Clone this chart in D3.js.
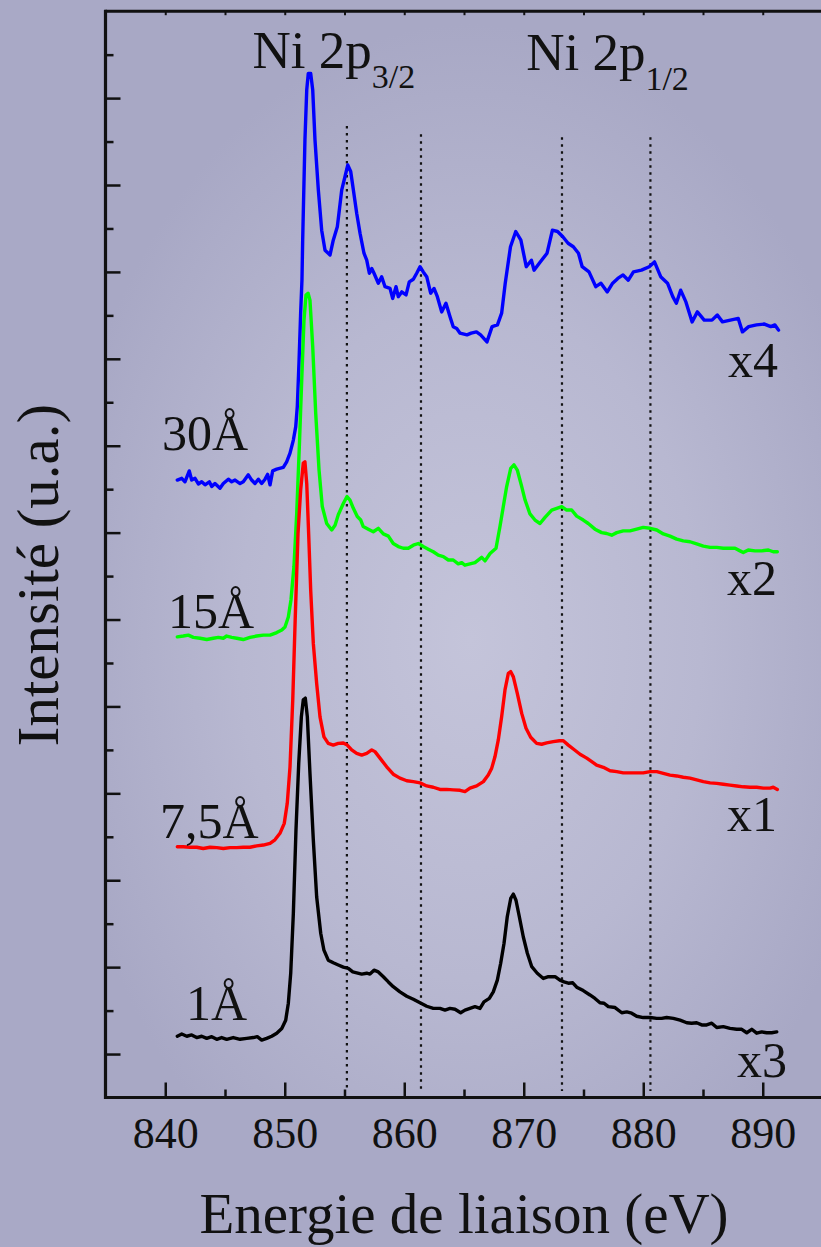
<!DOCTYPE html>
<html><head><meta charset="utf-8">
<script src="https://cdn.jsdelivr.net/npm/d3@7/dist/d3.min.js"></script>
<style>html,body{margin:0;padding:0;background:#aaaac6;}svg{display:block;}</style>
</head><body>
<script>
// ---- Data (binding energy eV, intensity a.u., offset stacked) ----
const spec30 = [[841.01,13.21],[841.38,13.25],[841.65,13.17],[842.01,13.42],[842.21,13.21],[842.49,13.25],[842.77,13.12],[843.05,13.17],[843.33,13.10],[843.69,13.17],[843.89,13.06],[844.16,13.13],[844.58,13.02],[844.86,13.13],[845.28,13.23],[845.56,13.17],[845.84,13.21],[846.26,13.13],[846.53,13.17],[846.95,13.33],[847.23,13.21],[847.51,13.13],[847.79,13.23],[848.07,13.13],[848.35,13.23],[848.57,13.34],[848.77,13.10],[848.99,13.42],[849.33,13.46],[849.88,13.50],[850.16,13.63],[850.44,13.83],[850.72,14.13],[850.92,14.44],[851.05,14.90],[851.19,15.90],[851.33,17.05],[851.44,17.81],[851.50,18.73],[851.69,21.04],[851.84,22.19],[851.97,22.57],[852.17,22.57],[852.34,22.19],[852.53,21.04],[852.81,19.89],[853.09,18.96],[853.37,18.50],[853.79,18.39],[854.06,18.73],[854.40,19.04],[854.77,19.89],[855.04,20.19],[855.27,20.46],[855.52,20.31],[855.74,19.89],[856.02,19.35],[856.30,18.89],[856.63,18.43],[856.86,18.27],[857.08,17.97],[857.28,18.08],[857.47,17.97],[857.83,17.74],[858.11,17.89],[858.39,17.66],[858.81,17.62],[859.03,17.39],[859.31,17.66],[859.50,17.43],[859.79,17.54],[860.15,17.47],[860.42,17.77],[860.76,17.83],[861.04,17.97],[861.32,18.12],[861.59,18.00],[861.88,17.89],[862.21,17.51],[862.49,17.62],[862.77,17.43],[863.13,17.08],[863.49,17.28],[863.83,16.97],[864.10,16.74],[864.39,16.70],[864.67,16.59],[865.25,16.55],[865.60,16.59],[866.04,16.62],[866.39,16.55],[866.92,16.39],[867.35,16.74],[867.80,16.78],[868.15,17.05],[868.45,17.74],[868.89,18.58],[869.33,18.93],[869.76,18.73],[870.21,18.12],[870.64,18.27],[870.86,18.04],[871.30,18.20],[871.95,18.43],[872.40,18.96],[872.83,18.93],[873.27,18.81],[873.71,18.66],[874.15,18.58],[874.58,18.43],[874.89,18.12],[875.46,18.00],[876.03,17.66],[876.46,17.74],[876.99,17.54],[877.44,17.74],[877.87,17.85],[878.31,17.93],[878.75,17.81],[879.18,18.00],[879.85,18.04],[880.50,18.12],[880.94,18.23],[881.46,17.89],[882.03,17.74],[882.47,17.43],[882.77,17.28],[883.13,17.58],[883.57,17.31],[884.09,16.85],[884.53,17.08],[885.10,16.89],[885.75,16.89],[886.20,17.01],[886.63,16.85],[887.29,16.89],[887.95,16.93],[888.30,16.62],[888.82,16.74],[889.48,16.78],[890.14,16.80],[890.67,16.74],[891.02,16.78],[891.32,16.66]];

const spec15 = [[841.01,9.60],[841.51,9.62],[841.93,9.64],[842.35,9.59],[842.91,9.57],[843.47,9.54],[844.02,9.57],[844.44,9.59],[844.86,9.57],[845.14,9.62],[845.56,9.59],[845.98,9.57],[846.53,9.54],[847.09,9.59],[847.65,9.62],[848.21,9.64],[848.77,9.64],[849.33,9.70],[849.75,9.76],[850.02,9.83],[850.30,10.06],[850.52,10.45],[850.77,11.22],[851.00,12.44],[851.22,13.98],[851.42,15.51],[851.61,16.89],[851.78,17.47],[851.95,17.51],[852.11,17.35],[852.34,16.28],[852.59,14.75],[852.87,13.44],[853.14,12.60],[853.51,12.21],[853.93,12.06],[854.21,12.17],[854.48,12.41],[854.90,12.67],[855.21,12.83],[855.46,12.75],[855.74,12.56],[856.07,12.37],[856.36,12.29],[856.57,12.14],[856.99,12.08],[857.41,12.02],[857.83,12.10],[858.25,11.97],[858.67,11.92],[859.08,11.75],[859.50,11.68],[859.92,11.64],[860.34,11.64],[860.76,11.71],[861.18,11.75],[861.59,11.68],[862.01,11.62],[862.43,11.56],[862.85,11.48],[863.27,11.45],[863.69,11.37],[864.10,11.37],[864.52,11.28],[864.81,11.31],[865.08,11.25],[865.50,11.28],[865.92,11.31],[866.48,11.43],[866.76,11.35],[867.18,11.52],[867.68,11.64],[868.01,12.14],[868.29,12.60],[868.57,13.06],[868.91,13.48],[869.18,13.56],[869.46,13.44],[869.83,13.06],[870.11,12.75],[870.52,12.43],[870.94,12.29],[871.36,12.21],[871.78,12.35],[872.34,12.52],[872.76,12.56],[873.18,12.60],[873.59,12.52],[874.01,12.52],[874.43,12.38],[874.98,12.29],[875.40,12.21],[875.96,12.08],[876.52,12.00],[876.94,11.98],[877.36,11.94],[877.78,12.00],[878.33,12.04],[878.89,12.04],[879.45,12.08],[880.00,12.12],[880.57,12.10],[881.13,12.06],[881.68,11.97],[882.24,11.92],[882.80,11.85],[883.35,11.81],[883.91,11.79],[884.47,11.74],[885.03,11.69],[885.59,11.66],[886.15,11.66],[886.70,11.64],[887.26,11.64],[887.68,11.64],[888.10,11.58],[888.37,11.54],[888.79,11.60],[889.35,11.58],[889.91,11.58],[890.47,11.60],[890.88,11.56],[891.22,11.56]];

const spec75 = [[841.01,4.77],[841.51,4.77],[842.07,4.76],[842.63,4.76],[843.18,4.73],[843.75,4.76],[844.31,4.75],[844.86,4.73],[845.42,4.75],[845.98,4.75],[846.53,4.76],[847.09,4.76],[847.65,4.79],[848.21,4.81],[848.77,4.85],[849.18,4.93],[849.60,5.08],[849.96,5.31],[850.21,5.77],[850.44,6.61],[850.67,8.15],[850.88,10.06],[851.11,11.98],[851.33,12.98],[851.55,13.60],[851.69,13.63],[851.84,13.13],[852.00,11.98],[852.17,10.68],[852.39,9.45],[852.67,8.53],[852.95,7.76],[853.28,7.30],[853.64,7.15],[854.06,7.11],[854.48,7.15],[854.90,7.16],[855.23,7.11],[855.60,7.00],[856.02,6.92],[856.44,6.88],[856.86,6.92],[857.28,7.00],[857.55,6.96],[857.97,6.81],[858.53,6.61],[859.08,6.44],[859.64,6.35],[860.21,6.29],[860.76,6.27],[861.32,6.24],[861.88,6.17],[862.43,6.14],[862.99,6.09],[863.55,6.09],[864.10,6.08],[864.67,6.07],[865.08,6.04],[865.50,6.12],[866.06,6.17],[866.62,6.27],[867.03,6.42],[867.32,6.58],[867.59,6.84],[867.87,7.23],[868.15,7.76],[868.43,8.38],[868.71,8.76],[868.91,8.80],[869.13,8.68],[869.46,8.30],[869.83,7.84],[870.19,7.50],[870.58,7.29],[871.08,7.15],[871.50,7.13],[871.92,7.16],[872.47,7.19],[872.98,7.21],[873.31,7.21],[873.73,7.11],[874.15,7.02],[874.71,6.90],[875.27,6.81],[875.69,6.73],[876.10,6.65],[876.66,6.60],[877.22,6.52],[877.78,6.50],[878.33,6.47],[878.89,6.47],[879.45,6.47],[880.00,6.47],[880.57,6.50],[881.13,6.50],[881.68,6.46],[882.24,6.42],[882.80,6.40],[883.35,6.37],[883.91,6.35],[884.47,6.31],[885.03,6.27],[885.59,6.24],[886.15,6.23],[886.70,6.21],[887.26,6.19],[887.82,6.17],[888.37,6.15],[888.93,6.14],[889.49,6.14],[890.05,6.12],[890.61,6.12],[890.88,6.14],[891.22,6.09]];

const spec1 = [[841.01,0.41],[841.38,0.46],[841.80,0.41],[842.21,0.44],[842.63,0.38],[843.05,0.41],[843.47,0.36],[843.89,0.40],[844.31,0.34],[844.72,0.38],[845.14,0.34],[845.69,0.38],[846.26,0.34],[846.82,0.36],[847.37,0.38],[847.70,0.40],[848.07,0.32],[848.49,0.36],[848.91,0.41],[849.33,0.48],[849.75,0.59],[850.08,0.78],[850.30,1.17],[850.50,1.86],[850.72,3.24],[850.94,5.16],[851.17,6.69],[851.39,7.76],[851.55,8.15],[851.72,8.19],[851.89,7.76],[852.11,6.46],[852.39,4.93],[852.67,3.62],[853.01,2.78],[853.28,2.39],[853.64,2.16],[854.06,2.10],[854.48,2.05],[854.90,2.00],[855.32,1.97],[855.69,1.89],[856.02,1.87],[856.44,1.84],[856.86,1.86],[857.13,1.84],[857.47,1.93],[857.83,1.89],[858.25,1.78],[858.67,1.66],[859.08,1.55],[859.64,1.43],[860.21,1.33],[860.76,1.26],[861.32,1.18],[861.88,1.10],[862.43,1.05],[862.99,1.05],[863.41,1.01],[863.83,1.05],[864.25,1.03],[864.72,0.95],[865.08,1.01],[865.50,1.05],[865.92,1.09],[866.34,1.05],[866.67,1.20],[867.12,1.28],[867.45,1.43],[867.79,1.70],[868.07,2.09],[868.35,2.55],[868.62,3.16],[868.91,3.58],[869.13,3.68],[869.35,3.54],[869.63,3.16],[869.96,2.70],[870.30,2.32],[870.67,2.01],[871.13,1.86],[871.64,1.74],[872.06,1.78],[872.62,1.78],[873.03,1.70],[873.37,1.66],[873.73,1.63],[874.10,1.64],[874.43,1.54],[874.98,1.46],[875.54,1.36],[875.96,1.28],[876.38,1.18],[876.72,1.17],[877.08,1.09],[877.64,1.07],[878.20,0.95],[878.62,0.97],[879.03,0.94],[879.45,0.87],[880.00,0.84],[880.57,0.84],[881.13,0.82],[881.54,0.82],[881.96,0.84],[882.52,0.82],[883.08,0.78],[883.64,0.72],[884.05,0.71],[884.47,0.72],[884.89,0.67],[885.31,0.67],[885.73,0.71],[886.15,0.61],[886.70,0.63],[887.26,0.59],[887.82,0.57],[888.24,0.57],[888.66,0.49],[889.08,0.57],[889.49,0.48],[889.91,0.51],[890.33,0.49],[890.75,0.49],[891.17,0.51]];

const seriesData = [spec30, spec15, spec75, spec1];
const seriesColors = ["#0000ff", "#00ff00", "#ff0000", "#000000"];
const thicknessLabels = ["30Å", "15Å", "7,5Å", "1Å"];
const thicknessLabelPos = [[162, 13.90], [168, 9.80], [160, 4.97], [186, 0.78]]; // [px x, intensity at baseline]
const factorLabels = ["x4", "x2", "x1", "x3"];
const factorLabelPos = [[778, 15.59], [777, 10.57], [777, 5.14], [787, -0.53]];

const xMajorTicks = [840, 850, 860, 870, 880, 890];
const xMinorTicks = [845, 855, 865, 875, 885, 895];
const yMajorTicks = [0, 2, 4, 6, 8, 10, 12, 14, 16, 18, 20, 22];
const yMinorTicks = [1, 3, 5, 7, 9, 11, 13, 15, 17, 19, 21, 23];

const dotEnergies = [855.2, 861.4, 873.2, 880.6];
const dotTops = [21.36, 21.17, 21.10, 21.10];
const dotBottom = -0.85;

const peakLabels = [{main: "Ni 2p", sub: "3/2", e: 847.3, i: 22.7}, {main: "Ni 2p", sub: "1/2", e: 870.2, i: 22.65}];

// ---- Drawing ----
const W = 821, H = 1247;
const svg = d3.select("body").append("svg").attr("width", W).attr("height", H);

const defs = svg.append("defs");
const grad = defs.append("radialGradient").attr("id", "bg")
  .attr("gradientUnits", "userSpaceOnUse").attr("cx", 470).attr("cy", 640).attr("r", 560)
  .attr("gradientTransform", "translate(470,640) scale(0.75,1.1) translate(-470,-640)");
grad.append("stop").attr("offset", "0%").attr("stop-color", "#c4c4da");
grad.append("stop").attr("offset", "55%").attr("stop-color", "#b8b8d1");
grad.append("stop").attr("offset", "100%").attr("stop-color", "#a8a8c5");
svg.append("rect").attr("width", W).attr("height", H).attr("fill", "#a9a9c6");
svg.append("rect").attr("x", 105).attr("y", 11).attr("width", W - 105).attr("height", 1086).attr("fill", "url(#bg)");

const x = d3.scaleLinear().domain([835, 897]).range([105.5, 846.4]);
const y = d3.scaleLinear().domain([-1, 24]).range([1097.5, 11.2]);

const font = "'Liberation Serif', 'Times New Roman', serif";
const ink = "#111";

// dotted reference lines
svg.append("g").selectAll("line").data(dotEnergies).join("line")
  .attr("x1", d => x(d)).attr("x2", d => x(d))
  .attr("y1", (d, i) => y(dotTops[i])).attr("y2", y(dotBottom))
  .attr("stroke", "#111").attr("stroke-width", 2.2).attr("stroke-dasharray", "2.5,4.5");

// curves
const line = d3.line().x(d => x(d[0])).y(d => y(d[1]));
svg.append("g").selectAll("path").data(seriesData).join("path")
  .attr("d", line).attr("fill", "none")
  .attr("stroke", (d, i) => seriesColors[i]).attr("stroke-width", 3.4)
  .attr("stroke-linejoin", "round").attr("stroke-linecap", "round");

// axes
const axG = svg.append("g");
const bottomAxis = d3.axisBottom(x).tickValues(xMajorTicks).tickSize(-15).tickFormat(d3.format("d"));
const gb = axG.append("g").attr("transform", `translate(0,${y(-1)})`).call(bottomAxis);
gb.select(".domain").remove();
gb.selectAll(".tick line").attr("stroke", ink).attr("stroke-width", 2.5);
gb.selectAll(".tick text").attr("font-family", font).attr("font-size", 44).attr("fill", ink)
  .attr("y", 50).attr("dy", 0);
const gbm = axG.append("g").attr("transform", `translate(0,${y(-1)})`)
  .call(d3.axisBottom(x).tickValues(xMinorTicks).tickSize(-8).tickFormat(""));
gbm.select(".domain").remove();
gbm.selectAll(".tick line").attr("stroke", ink).attr("stroke-width", 2.5);

// top axis mirror ticks
const gt = axG.append("g").attr("transform", `translate(0,${y(24)})`)
  .call(d3.axisTop(x).tickValues(xMajorTicks.concat(xMinorTicks)).tickSize(-4).tickFormat(""));
gt.select(".domain").remove();
gt.selectAll(".tick line").attr("stroke", ink).attr("stroke-width", 2);

const gl = axG.append("g").attr("transform", `translate(${x(835)},0)`)
  .call(d3.axisLeft(y).tickValues(yMajorTicks).tickSize(-15).tickFormat(""));
gl.select(".domain").remove();
gl.selectAll(".tick line").attr("stroke", ink).attr("stroke-width", 2.5);
const glm = axG.append("g").attr("transform", `translate(${x(835)},0)`)
  .call(d3.axisLeft(y).tickValues(yMinorTicks).tickSize(-8).tickFormat(""));
glm.select(".domain").remove();
glm.selectAll(".tick line").attr("stroke", ink).attr("stroke-width", 2.5);

// frame lines
axG.append("line").attr("x1", x(835)).attr("x2", W).attr("y1", y(-1)).attr("y2", y(-1)).attr("stroke", ink).attr("stroke-width", 3.2);
axG.append("line").attr("x1", x(835)).attr("x2", W).attr("y1", y(24)).attr("y2", y(24)).attr("stroke", ink).attr("stroke-width", 3);
axG.append("line").attr("x1", x(835)).attr("x2", x(835)).attr("y1", y(24) - 1.5).attr("y2", y(-1) + 1.5).attr("stroke", ink).attr("stroke-width", 3.2);

// axis titles
svg.append("text").attr("x", 464).attr("y", 1233).attr("text-anchor", "middle")
  .attr("font-family", font).attr("font-size", 57).attr("fill", ink).text("Energie de liaison (eV)");
svg.append("text").attr("transform", "translate(58,575) rotate(-90)").attr("text-anchor", "middle")
  .attr("font-family", font).attr("font-size", 59).attr("fill", ink).text("Intensité (u.a.)");

// peak labels
peakLabels.forEach(p => {
  const t = svg.append("text").attr("x", x(p.e)).attr("y", y(p.i))
    .attr("font-family", font).attr("font-size", 53).attr("fill", ink);
  t.append("tspan").text(p.main);
  t.append("tspan").attr("font-size", 34).attr("dy", 20).text(p.sub);
});

// thickness labels
svg.append("g").selectAll("text").data(thicknessLabels).join("text")
  .attr("x", (d, i) => thicknessLabelPos[i][0]).attr("y", (d, i) => y(thicknessLabelPos[i][1]))
  .attr("font-family", font).attr("font-size", 50).attr("fill", ink).text(d => d);

// scaling factor labels
svg.append("g").selectAll("text").data(factorLabels).join("text")
  .attr("x", (d, i) => factorLabelPos[i][0]).attr("y", (d, i) => y(factorLabelPos[i][1]))
  .attr("text-anchor", "end")
  .attr("font-family", font).attr("font-size", 50).attr("fill", ink).text(d => d);
</script>
</body></html>
